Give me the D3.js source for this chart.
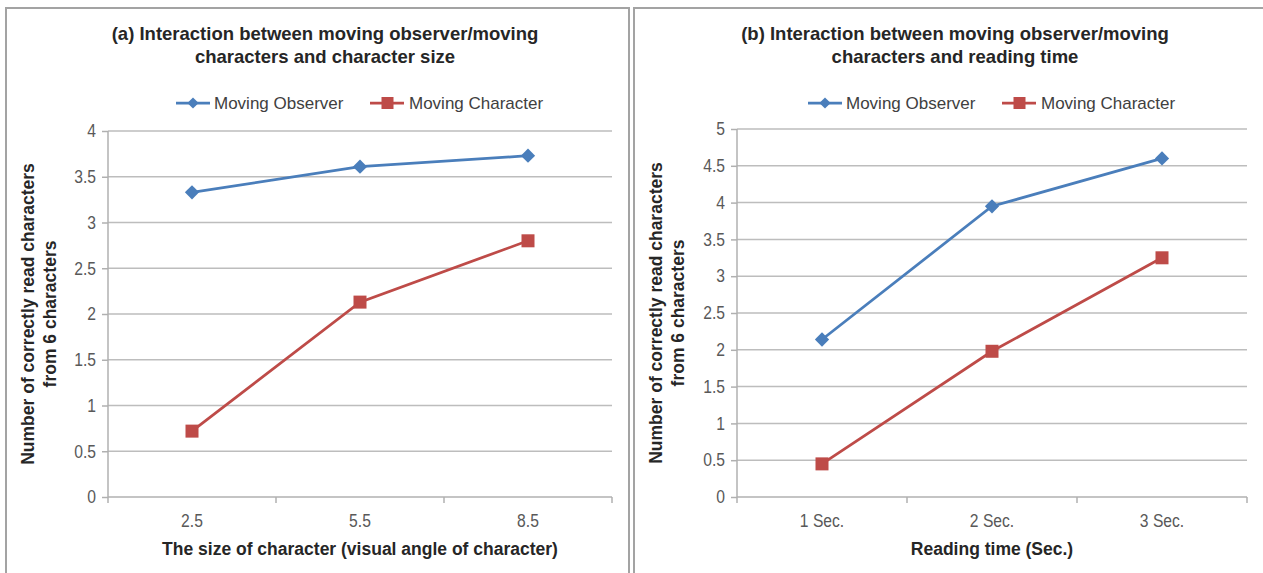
<!DOCTYPE html>
<html><head><meta charset="utf-8">
<script src="https://cdn.jsdelivr.net/npm/d3@7"></script>
<style>
body{margin:0;background:#fff;}
svg{display:block;font-family:"Liberation Sans",Arial,sans-serif;}
</style></head>
<body><svg id="c" width="1263" height="573"></svg>
<script>
// ---- data ----
const sizeCategories = ["2.5", "5.5", "8.5"];
const sizeObserver = [3.33, 3.61, 3.73];
const sizeCharacter = [0.72, 2.13, 2.80];
const sizeTicks = [0, 0.5, 1, 1.5, 2, 2.5, 3, 3.5, 4];

const timeCategories = ["1 Sec.", "2 Sec.", "3 Sec."];
const timeObserver = [2.14, 3.95, 4.60];
const timeCharacter = [0.45, 1.98, 3.25];
const timeTicks = [0, 0.5, 1, 1.5, 2, 2.5, 3, 3.5, 4, 4.5, 5];

const seriesNames = ["Moving Observer", "Moving Character"];
const titlesA = ["(a) Interaction between moving observer/moving", "characters and character size"];
const titlesB = ["(b) Interaction between moving observer/moving", "characters and reading time"];
const yTitle = ["Number of correctly read characters", "from 6 characters"];
const xTitleA = "The size of character (visual angle of character)";
const xTitleB = "Reading time (Sec.)";

const BLUE = "#4a7ebb", RED = "#be4b48";
const svg = d3.select("#c");
const SX = 0.87; // narrow glyphs like the reference

function panel(o) {
  const g = svg.append("g");
  // border
  g.append("path")
    .attr("d", `M${o.bx0},600 V${o.by} H${o.bx1}` + (o.closeRight ? ` V600` : ""))
    .attr("fill", "none").attr("stroke", "#a3a3a3").attr("stroke-width", 2);
  // title
  o.title.forEach((t, i) => {
    g.append("text").attr("x", o.titleX).attr("y", 40 + i * 23)
      .attr("text-anchor", "middle").attr("font-size", 18.5).attr("font-weight", "bold")
      .attr("fill", "#262626").text(t);
  });
  const x = d3.scaleBand().domain(o.cats).range([o.x0, o.x1]);
  const y = d3.scaleLinear().domain([0, d3.max(o.ticks)]).range([o.y0, o.y1]);
  // gridlines
  g.append("g").selectAll("line").data(o.ticks.filter(t => t > 0)).join("line")
    .attr("x1", o.x0).attr("x2", o.x1)
    .attr("y1", d => y(d)).attr("y2", d => y(d))
    .attr("stroke", "#bdbdbd").attr("stroke-width", 1.5);
  // y axis
  const ya = g.append("g").attr("transform", `translate(${o.x0},0)`)
    .call(d3.axisLeft(y).tickValues(o.ticks).tickSize(6).tickPadding(6).tickFormat(d3.format("")));
  ya.select(".domain").attr("stroke", "#b0b0b0").attr("stroke-width", 1.5).attr("d", `M0,${o.y0}V${o.y1}`);
  ya.selectAll(".tick line").attr("stroke", "#b0b0b0").attr("stroke-width", 1.5);
  ya.selectAll(".tick text").attr("font-size", 18).attr("fill", "#595959")
    .attr("font-family", "Liberation Sans, Arial, sans-serif")
    .attr("x", -12 / SX).attr("transform", `scale(${SX},1)`);
  // x axis
  const xa = g.append("g").attr("transform", `translate(0,${o.y0})`)
    .call(d3.axisBottom(x).tickSize(0).tickPadding(17));
  xa.select(".domain").attr("stroke", "#b0b0b0").attr("stroke-width", 1.5).attr("d", `M${o.x0},0H${o.x1}`);
  xa.selectAll(".tick text").attr("font-size", 18).attr("fill", "#595959")
    .attr("font-family", "Liberation Sans, Arial, sans-serif")
    .attr("transform", `scale(${SX},1)`);
  const bounds = o.cats.map(c => x(c)).concat([o.x1]);
  g.append("g").selectAll("line").data(bounds).join("line")
    .attr("x1", d => d).attr("x2", d => d).attr("y1", o.y0).attr("y2", o.y0 + 6)
    .attr("stroke", "#b0b0b0").attr("stroke-width", 1.5);
  // axis titles
  g.append("text").attr("x", (o.x0 + o.x1) / 2).attr("y", 555).attr("text-anchor", "middle")
    .attr("font-size", 17.5).attr("font-weight", "bold").attr("fill", "#262626").text(o.xTitle);
  const yc = (o.y0 + o.y1) / 2;
  yTitle.forEach((t, i) => {
    g.append("text").attr("transform", `translate(${o.yTitleX + i * 22},${yc}) rotate(-90)`)
      .attr("text-anchor", "middle").attr("dy", "0.35em")
      .attr("font-size", 17.5).attr("font-weight", "bold").attr("fill", "#262626").text(t);
  });
  // lines + markers
  const cx = c => x(c) + x.bandwidth() / 2;
  const line = d3.line().x(d => cx(d.c)).y(d => y(d.v));
  const s1 = o.cats.map((c, i) => ({c, v: o.obs[i]}));
  const s2 = o.cats.map((c, i) => ({c, v: o.chr[i]}));
  g.append("path").datum(s1).attr("d", line).attr("fill", "none").attr("stroke", BLUE).attr("stroke-width", 2.75);
  g.append("path").datum(s2).attr("d", line).attr("fill", "none").attr("stroke", RED).attr("stroke-width", 2.75);
  g.append("g").selectAll("path").data(s1).join("path")
    .attr("d", d3.symbol(d3.symbolDiamond2, 130))
    .attr("transform", d => `translate(${cx(d.c)},${y(d.v)})`).attr("fill", BLUE);
  g.append("g").selectAll("rect").data(s2).join("rect")
    .attr("x", d => cx(d.c) - 6.5).attr("y", d => y(d.v) - 6.5).attr("width", 13).attr("height", 13)
    .attr("fill", RED);
  // legend
  const ly = 103;
  const lx = o.legendX;
  g.append("line").attr("x1", lx).attr("x2", lx + 34).attr("y1", ly).attr("y2", ly).attr("stroke", BLUE).attr("stroke-width", 2.75);
  g.append("path").attr("d", d3.symbol(d3.symbolDiamond2, 80)).attr("transform", `translate(${lx + 17},${ly})`).attr("fill", BLUE);
  g.append("text").attr("x", lx + 38).attr("y", ly).attr("dy", "0.35em").attr("font-size", 17)
    .attr("fill", "#404040").text(seriesNames[0]);
  const rx = lx + 194;
  g.append("line").attr("x1", rx).attr("x2", rx + 34).attr("y1", ly).attr("y2", ly).attr("stroke", RED).attr("stroke-width", 2.75);
  g.append("rect").attr("x", rx + 11.5).attr("y", ly - 6).attr("width", 12).attr("height", 12).attr("fill", RED);
  g.append("text").attr("x", rx + 39).attr("y", ly).attr("dy", "0.35em").attr("font-size", 17)
    .attr("fill", "#404040").text(seriesNames[1]);
}

panel({bx0: 6, bx1: 629, by: 8, closeRight: true, title: titlesA, titleX: 325,
  cats: sizeCategories, obs: sizeObserver, chr: sizeCharacter, ticks: sizeTicks,
  x0: 108, x1: 612, y0: 497, y1: 131, xTitle: xTitleA, yTitleX: 28, legendX: 176});
panel({bx0: 634, bx1: 1270, by: 8, closeRight: false, title: titlesB, titleX: 955,
  cats: timeCategories, obs: timeObserver, chr: timeCharacter, ticks: timeTicks,
  x0: 737, x1: 1247, y0: 497, y1: 129, xTitle: xTitleB, yTitleX: 656, legendX: 808});
</script></body></html>
